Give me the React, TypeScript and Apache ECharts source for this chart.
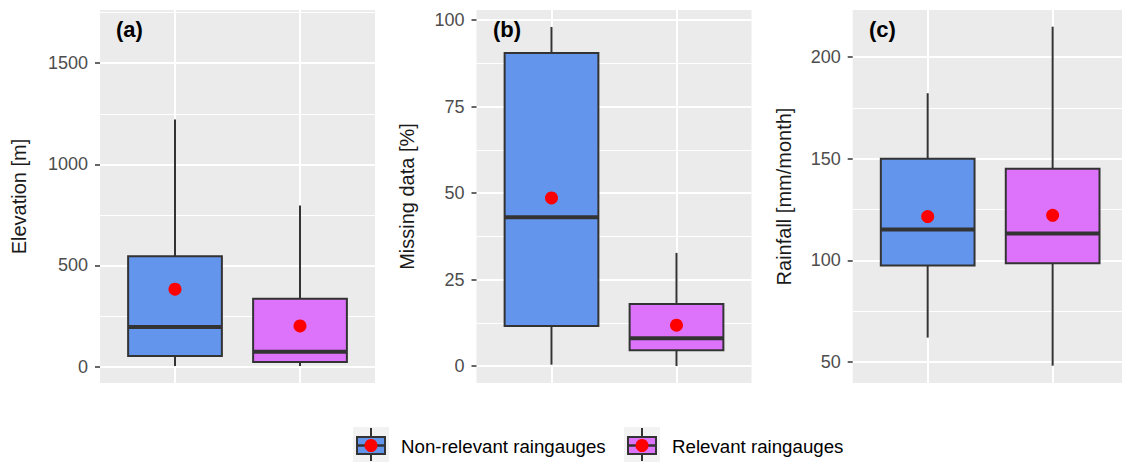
import React, { useEffect, useRef } from "react";
import * as echarts from "echarts";

// ---- data ----
const groups = ["Non-relevant raingauges", "Relevant raingauges"];
const groupColors = ["#6495ED", "#DD73FA"];
const groupX = [1, 2];

// [min, Q1, median, Q3, max]
const elevationStats = [
  [3, 53, 196, 546, 1222],
  [3, 23, 74, 336, 797],
];
const elevationMeans = [383, 201];

const missingStats = [
  [0.4, 11.6, 43, 90.5, 98],
  [0, 4.6, 8, 17.9, 32.7],
];
const missingMeans = [48.6, 11.8];

const rainfallStats = [
  [62.1, 97.5, 115.2, 150, 182.2],
  [48.3, 98.7, 113.3, 145.1, 214.9],
];
const rainfallMeans = [121.6, 122.2];

const elevationTicks = [0, 500, 1000, 1500];
const elevationMinor = [250, 750, 1250, 1750];
const missingTicks = [0, 25, 50, 75, 100];
const missingMinor = [12.5, 37.5, 62.5, 87.5];
const rainfallTicks = [50, 100, 150, 200];
const rainfallMinor = [75, 125, 175];

const panelLabels = ["(a)", "(b)", "(c)"];
const axisTitles = ["Elevation [m]", "Missing data [%]", "Rainfall [mm/month]"];

const FONT = "'Liberation Sans', Arial, sans-serif";

export default function App() {
  const ref = useRef<HTMLDivElement>(null);

  useEffect(() => {
    if (!ref.current) return;
    const chart = echarts.init(ref.current, null, { renderer: "svg" });

    const panels = [
      { stats: elevationStats, means: elevationMeans, min: -81, max: 1763, major: elevationTicks, minor: elevationMinor, left: 100, xmax: 2.6, gap: 71 },
      { stats: missingStats, means: missingMeans, min: -4.9, max: 102.9, major: missingTicks, minor: missingMinor, left: 476.5, xmax: 2.6, gap: 60 },
      { stats: rainfallStats, means: rainfallMeans, min: 39.8, max: 223.1, major: rainfallTicks, minor: rainfallMinor, left: 852.7, xmax: 2.555, gap: 59 },
    ];

    const grid: any[] = [];
    const xAxis: any[] = [];
    const yAxis: any[] = [];
    const series: any[] = [];

    panels.forEach((p, i) => {
      const width = (p.xmax - 0.4) * 125;
      grid.push({
        left: p.left,
        top: 10,
        width,
        height: 373,
        show: true,
        backgroundColor: "#EBEBEB",
        borderWidth: 0,
        containLabel: false,
      });
      xAxis.push({
        type: "value",
        gridIndex: i,
        min: 0.4,
        max: p.xmax,
        axisLine: { show: false },
        axisTick: { show: false, customValues: groupX },
        axisLabel: { show: false, customValues: groupX },
        splitLine: { show: true, lineStyle: { color: "#FFFFFF", width: 2 } },
      });
      yAxis.push({
        type: "value",
        gridIndex: i,
        min: p.min,
        max: p.max,
        name: axisTitles[i],
        nameLocation: "middle",
        nameGap: p.gap,
        nameRotate: 90,
        nameTextStyle: { color: "#1A1A1A", fontSize: 20, fontFamily: FONT },
        axisLine: { show: false },
        axisTick: { show: true, length: 5, customValues: p.major, lineStyle: { color: "#333333", width: 1.5 } },
        axisLabel: {
          customValues: p.major,
          color: "#4D4D4D",
          fontSize: 18,
          margin: 12,
          fontFamily: FONT,
          formatter: (v: number) => String(v),
        },
        splitLine: { show: true, lineStyle: { color: "#FFFFFF", width: 2 } },
      });
      yAxis.push({
        type: "value",
        gridIndex: i,
        min: p.min,
        max: p.max,
        position: "left",
        axisLine: { show: false },
        axisTick: { show: false, customValues: p.minor },
        axisLabel: { show: false, customValues: p.minor },
        splitLine: { show: true, lineStyle: { color: "#FFFFFF", width: 1 } },
      });

      const boxData = p.stats.map((s, k) => [groupX[k], ...s]);
      series.push({
        type: "custom",
        xAxisIndex: i,
        yAxisIndex: 2 * i,
        encode: { x: 0, y: [1, 2, 3, 4, 5] },
        data: boxData,
        z: 3,
        renderItem: (params: any, api: any) => {
          const x = api.value(0);
          const lo = api.coord([x, api.value(1)]);
          const q1 = api.coord([x, api.value(2)]);
          const med = api.coord([x, api.value(3)]);
          const q3 = api.coord([x, api.value(4)]);
          const hi = api.coord([x, api.value(5)]);
          const w = api.size([0.75, 0])[0];
          const fill = groupColors[params.dataIndex];
          const stroke = "#333333";
          return {
            type: "group",
            children: [
              { type: "line", shape: { x1: lo[0], y1: lo[1], x2: q1[0], y2: q1[1] }, style: { stroke, lineWidth: 2 } },
              { type: "line", shape: { x1: q3[0], y1: q3[1], x2: hi[0], y2: hi[1] }, style: { stroke, lineWidth: 2 } },
              { type: "rect", shape: { x: q3[0] - w / 2, y: q3[1], width: w, height: q1[1] - q3[1] }, style: { fill, stroke, lineWidth: 2 } },
              { type: "line", shape: { x1: med[0] - w / 2, y1: med[1], x2: med[0] + w / 2, y2: med[1] }, style: { stroke, lineWidth: 4 } },
            ],
          };
        },
      });
      series.push({
        type: "scatter",
        xAxisIndex: i,
        yAxisIndex: 2 * i,
        data: p.means.map((m, k) => [groupX[k], m]),
        symbol: "circle",
        symbolSize: 13,
        itemStyle: { color: "#FF0000", opacity: 1, borderWidth: 0 },
        z: 5,
      });
    });

    const graphic: any[] = [];
    const labelX = [116, 493, 869];
    panelLabels.forEach((t, i) => {
      graphic.push({
        type: "text",
        x: labelX[i],
        y: 29,
        style: { text: t, fill: "#000000", font: `bold 22px ${FONT}`, textVerticalAlign: "middle", textAlign: "left" },
        z: 10,
      });
    });

    // legend
    const keyLeft = [353, 624];
    const textLeft = [401, 672];
    groups.forEach((g, k) => {
      const kx = keyLeft[k];
      const cx = kx + 18;
      graphic.push({ type: "rect", shape: { x: kx, y: 427, width: 36, height: 35 }, style: { fill: "#F2F2F2" } });
      graphic.push({ type: "line", shape: { x1: cx, y1: 428, x2: cx, y2: 461 }, style: { stroke: "#333333", lineWidth: 2 } });
      graphic.push({ type: "rect", shape: { x: kx + 4, y: 437, width: 28, height: 17 }, style: { fill: groupColors[k], stroke: "#333333", lineWidth: 2 } });
      graphic.push({ type: "line", shape: { x1: kx + 4, y1: 445.5, x2: kx + 32, y2: 445.5 }, style: { stroke: "#333333", lineWidth: 2.5 } });
      graphic.push({ type: "circle", shape: { cx, cy: 445.5, r: 6.5 }, style: { fill: "#FF0000" } });
      graphic.push({
        type: "text",
        x: textLeft[k],
        y: 446,
        style: { text: g, fill: "#000000", font: `18.7px ${FONT}`, textVerticalAlign: "middle", textAlign: "left" },
      });
    });

    chart.setOption({
      animation: false,
      backgroundColor: "#FFFFFF",
      grid,
      xAxis,
      yAxis,
      series,
      graphic,
    });

    return () => chart.dispose();
  }, []);

  return (
    <div
      ref={ref}
      style={{ position: "fixed", left: 0, top: 0, width: 1122, height: 462 }}
    />
  );
}
